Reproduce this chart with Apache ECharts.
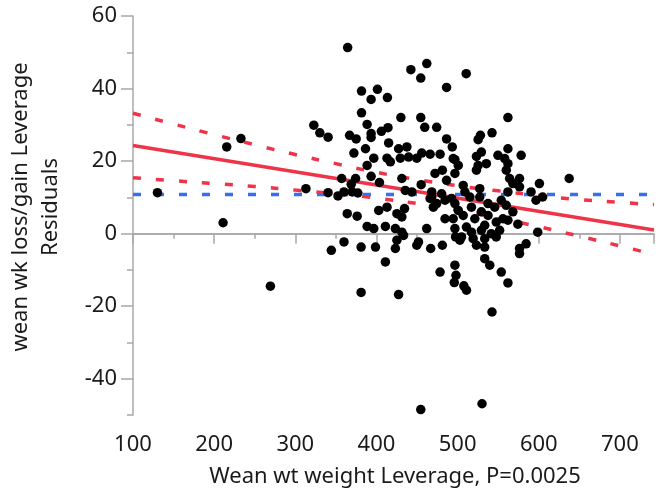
<!DOCTYPE html>
<html>
<head>
<meta charset="utf-8">
<script src="https://cdn.jsdelivr.net/npm/echarts@6/dist/echarts.min.js"></script>
<style>html,body{margin:0;padding:0;background:#fff}#c{width:657px;height:496px}</style>
</head>
<body>
<div id="c"></div>
<script>
// ---- data ----
const xTitle = 'Wean wt weight Leverage, P=0.0025';
const yTitle1 = 'wean wk loss/gain Leverage';
const yTitle2 = 'Residuals';
const yTickValues = [-40, -20, 0, 20, 40, 60];

const pointsX = [130.1,211,215.5,233,269.3,
364.5,442.4,462.0,454.6,486.4,381.6,401.2,393.4,413.5,381.6,430.1,454.6,459.5,474.2,322.8,330.2,340.4,366.9,375.0,388.5,393.4,393.4,406.1,414.2,415.0,486.4,493.4,372.2,386.5,427.3,437.5,455.8,466.1,478.4,396.7,413.0,429.4,449.7,494.6,
510.6,562.0,542.4,528.1,525.3,529.3,562.0,549.7,523.2,578.3,558.0,496.7,
417.1,388.5,439.6,472.2,481.2,486.4,496.7,393.4,403.7,357.1,368.9,374.3,431.3,313.1,340.4,352.6,360.0,370.1,377.1,435.5,443.6,455.1,468.1,466.1,468.1,474.2,480.3,484.5,492.6,496.7,470.1,413.0,402.8,364.0,376.2,425.2,434.6,431.3,388.5,396.7,411.0,423.3,431.3,433.4,461.9,484.5,494.6,496.7,497.5,360.0,344.4,381.1,398.8,425.2,423.3,449.7,451.8,466.8,481.2,411.0,478.4,496.7,498,
500.8,525.3,535.4,562.0,560.0,523.2,637.5,564.1,576.3,568.1,576.3,600.8,590.5,604.8,596.6,562.0,506.9,509.0,527.3,515.1,527.3,553.8,537.5,545.7,559.9,568.1,517.0,500.8,529.3,506.9,537.5,521.2,555.9,562.0,547.6,574.2,533.4,510.9,529.3,517.1,551.8,541.5,504.8,519.1,533.4,547.6,598.7,502.8,523.2,533.4,584.4,576.3,576.3,533.4,539.6,553.8,562.0,
381.1,427.3,495.9,507.7,510.9,542.4,454.6,530.1];
const pointsY = [11.3,3.0,23.9,26.2,-14.5,
51.3,45.2,46.9,42.9,40.3,39.3,39.8,37.0,37.5,33.3,32.0,32.0,29.3,29.3,29.9,27.8,26.6,27.1,26.1,30.1,27.6,26.5,28.2,29.2,25.0,26.1,23.9,22.2,23.4,23.4,23.9,22.2,21.9,21.9,20.8,20.8,20.8,20.8,20.7,
44.1,32.0,27.8,27.1,25.9,22.5,23.4,21.6,21.3,21.6,20.7,20.4,
19.8,18.8,21.1,16.6,17.5,14.7,16.6,15.8,14.1,15.2,13.6,15.2,15.2,12.4,11.3,10.4,11.5,11.5,11.2,11.9,11.5,13.5,11.5,9.7,10.1,8.3,11.0,9.2,9.7,8.3,7.3,7.3,6.4,5.5,4.8,5.5,6.9,4.6,2.0,1.4,2.0,1.4,0.4,-0.5,1.4,4.1,4.1,1.4,-0.9,-2.3,-4.6,-3.7,-3.7,-1.8,-4.1,-3.2,-2.3,-4.1,-3.2,-7.8,-10.6,-8.7,-11.5,
18.8,18.8,19.3,19.3,17.5,17.5,15.2,15.2,15.2,13.8,12.9,13.8,11.5,10.1,9.2,11.5,13.3,11.5,12.4,10.1,10.1,9.2,8.3,7.3,7.8,6.0,7.3,6.4,6.0,5.0,5.0,4.1,4.1,3.7,3.2,2.6,2.3,1.8,0.9,0.4,0.9,0.0,-0.9,-1.4,-1.4,-0.9,0.4,-1.8,-3.2,-3.7,-2.8,-4.1,-5.5,-6.9,-8.7,-10.6,-13.6,
-16.2,-16.8,-13.5,-14.4,-15.6,-21.6,-48.5,-46.9];

const fitX = [100, 742];
const fitY = [24.3, 1.0];
const meanY = 10.8;
const ciX = [100,150,200,250,300,350,400,450,500,550,600,650,700,742];
const ciUpper = [33.2,30.2,27.3,24.5,21.8,19.3,16.9,14.9,13.2,11.8,10.5,9.4,8.6,8.0];
const ciLower = [15.4,14.6,13.8,13.0,12.0,11.0,9.8,8.3,6.5,4.3,1.9,-0.7,-3.4,-5.7];

// ---- build chart ----
const RED = '#EF3349', BLUE = '#3471F2', AXIS = '#A8A8A8', TXT = '#1a1a1a';
const FONT = 'Noto Sans';
const FS = 22;
const pts = pointsX.map((x, i) => [x, pointsY[i]]);
const fit = fitX.map((x, i) => [x, fitY[i]]);
const mean = fitX.map(x => [x, meanY]);
const up = ciX.map((x, i) => [x, ciUpper[i]]);
const lo = ciX.map((x, i) => [x, ciLower[i]]);

const chart = echarts.init(document.getElementById('c'), null, {renderer: 'canvas'});
chart.setOption({
  animation: false,
  backgroundColor: '#fff',
  grid: {left: 133, right: 0, top: 16, bottom: 81},
  xAxis: [{
    type: 'value', min: 100, max: 742, interval: 100,
    axisLine: {lineStyle: {color: AXIS, width: 1.5}},
    axisTick: {length: 10, lineStyle: {color: AXIS, width: 1.5}},
    minorTick: {show: true, splitNumber: 2, length: 5, lineStyle: {color: AXIS, width: 1.5}},
    axisLabel: {fontFamily: FONT, fontSize: FS, color: TXT, margin: 19,
      formatter: v => (v % 100 === 0 ? String(v) : '')},
    splitLine: {show: false}
  }, {
    type: 'value', position: 'top', min: 100, max: 742,
    axisLine: {show: true, lineStyle: {color: AXIS, width: 1.5}},
    axisTick: {show: false}, axisLabel: {show: false}, splitLine: {show: false}
  }],
  yAxis: [{
    type: 'value', min: -50, max: 60,
    axisLine: {show: true, lineStyle: {color: AXIS, width: 1.5}},
    axisTick: {show: true, length: 12, customValues: yTickValues, lineStyle: {color: AXIS, width: 1.5}},
    axisLabel: {fontFamily: FONT, fontSize: FS, color: TXT, margin: 16, customValues: yTickValues},
    splitLine: {show: false}
  }, {
    type: 'value', min: -50, max: 60, interval: 10, position: 'left',
    axisLine: {show: false},
    axisTick: {show: true, length: 6, lineStyle: {color: AXIS, width: 1.5}},
    axisLabel: {show: false}, splitLine: {show: false}
  }],
  graphic: [{
    type: 'text', x: 21, y: 207, rotation: Math.PI / 2,
    style: {text: yTitle1, fontFamily: FONT, fontSize: FS, fill: TXT, align: 'center', verticalAlign: 'middle'}
  }, {
    type: 'text', x: 51, y: 207, rotation: Math.PI / 2,
    style: {text: yTitle2, fontFamily: FONT, fontSize: FS, fill: TXT, align: 'center', verticalAlign: 'middle'}
  }, {
    type: 'text', x: 395, y: 477,
    style: {text: xTitle, fontFamily: FONT, fontSize: FS, fill: TXT, align: 'center', verticalAlign: 'middle'}
  }],
  series: [
    {type: 'line', data: mean, symbol: 'none', lineStyle: {color: BLUE, width: 3.5, type: [8, 15]}, z: 2},
    {type: 'line', data: up, symbol: 'none', smooth: true, lineStyle: {color: RED, width: 3.5, type: [8, 15]}, z: 3},
    {type: 'line', data: lo, symbol: 'none', smooth: true, lineStyle: {color: RED, width: 3.5, type: [8, 15]}, z: 3},
    {type: 'line', data: fit, symbol: 'none', lineStyle: {color: RED, width: 3.5}, z: 4},
    {type: 'scatter', data: pts, symbolSize: 9.5, itemStyle: {color: '#000', opacity: 1}, z: 5}
  ]
});
</script>
</body>
</html>
